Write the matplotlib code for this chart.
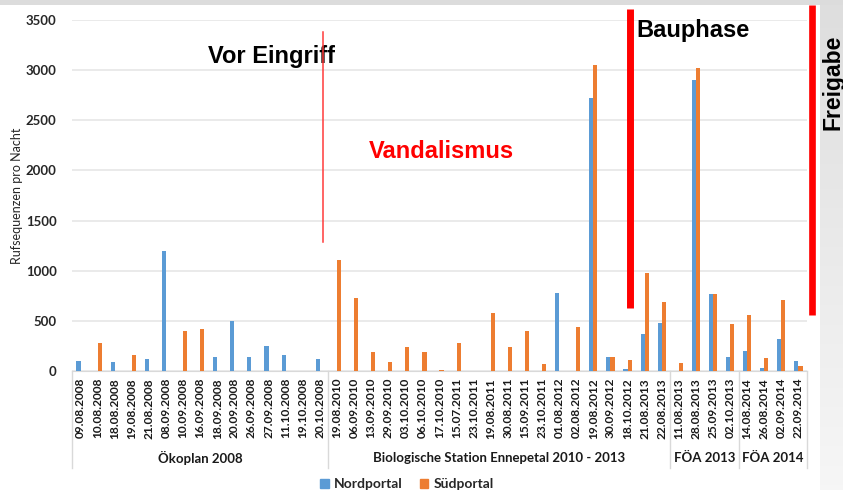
import numpy as np
import matplotlib.pyplot as plt
from matplotlib.lines import Line2D
from matplotlib.patches import Rectangle, Patch
import matplotlib.transforms as mtransforms

dates = ['09.08.2008', '10.08.2008', '18.08.2008', '19.08.2008', '21.08.2008',
         '08.09.2008', '10.09.2008', '16.09.2008', '18.09.2008', '20.09.2008',
         '26.09.2008', '27.09.2008', '11.10.2008', '19.10.2008', '20.10.2008',
         '19.08.2010', '06.09.2010', '13.09.2010', '29.09.2010', '03.10.2010',
         '06.10.2010', '17.10.2010', '15.07.2011', '23.10.2011', '19.08.2011',
         '30.08.2011', '15.09.2011', '23.10.2011', '01.08.2012', '02.08.2012',
         '19.08.2012', '30.09.2012', '18.10.2012', '21.08.2013', '22.08.2013',
         '11.08.2013', '28.08.2013', '25.09.2013', '02.10.2013',
         '14.08.2014', '26.08.2014', '02.09.2014', '22.09.2014']
nord = [95, 0, 85, 0, 120, 1200, 0, 0, 135, 500, 135, 250, 160, 0, 120,
        0, 0, 0, 0, 0, 0, 0, 0, 0, 0, 0, 0, 0, 775, 0,
        2720, 140, 20, 370, 480,
        0, 2900, 765, 140,
        200, 30, 320, 100]
sued = [0, 280, 0, 155, 0, 0, 400, 420, 0, 0, 0, 0, 0, 0, 0,
        1105, 730, 190, 90, 240, 190, 10, 280, 0, 575, 240, 395, 65, 0, 440,
        3050, 135, 105, 980, 685,
        80, 3020, 765, 470,
        555, 130, 705, 50]
groups = ['Ökoplan 2008', 'Biologische Station Ennepetal 2010 - 2013', 'FÖA 2013', 'FÖA 2014']
group_sizes = [15, 20, 4, 4]

W, H = 843, 490
blue = '#5B9BD5'
orange = '#ED7D31'


def fx(x):
    return x / W


def fy(y):
    return 1 - y / H


fig = plt.figure(figsize=(W / 100, H / 100), dpi=100)
fig.patch.set_facecolor('white')

# slide background: grey strip on top, grey gradient on the right
fig.add_artist(Rectangle((0, fy(5)), 1, 5 / H, transform=fig.transFigure,
                         facecolor='#dcdcdc', edgecolor='none', zorder=0))
gax = fig.add_axes([fx(820), 0, fx(W - 820), fy(5)], zorder=0)
grad = np.linspace(0, 1, 100).reshape(-1, 1)
gax.imshow(grad, aspect='auto', cmap=plt.matplotlib.colors.LinearSegmentedColormap.from_list(
    'g', ['#dedede', '#f6f6f6']), extent=[0, 1, 0, 1], origin='upper')
gax.axis('off')

ax = fig.add_axes([fx(72), fy(371), fx(807 - 72), 351 / H], zorder=1)
ax.patch.set_alpha(0)
x = np.arange(len(dates))
bw = 0.24
ax.bar(x - bw / 2, nord, bw, color=blue, label='Nordportal', zorder=3)
ax.bar(x + bw / 2, sued, bw, color=orange, label='Südportal', zorder=3)

ax.set_xlim(-0.5, len(dates) - 0.5)
ax.set_ylim(0, 3500)
ax.set_yticks(range(0, 3501, 500))
ax.yaxis.grid(True, color='#e6e6e6', linewidth=1.2, zorder=0)
ax.set_axisbelow(True)
for s in ['top', 'right', 'left']:
    ax.spines[s].set_visible(False)
ax.spines['bottom'].set_color('#d9d9d9')
ax.tick_params(axis='y', length=0, pad=11, labelsize=9.5, labelcolor='#262626')
for t in ax.get_yticklabels():
    t.set_fontfamily('Lato')
    t.set_fontweight('bold')

ax.set_xticks(x)
ax.set_xticklabels(dates, rotation=90, fontsize=8.6, fontfamily='Lato',
                   fontweight='bold', color='#1a1a1a')
ax.tick_params(axis='x', length=0, pad=5)

ax.set_ylabel('Rufsequenzen pro Nacht', fontsize=9, fontfamily='Lato', color='#262626')
ax.yaxis.set_label_coords(-0.066, 0.5)

# multi-level category axis
trans = mtransforms.blended_transform_factory(ax.transData, ax.transAxes)
edges = np.concatenate([[0], np.cumsum(group_sizes)]) - 0.5
for e in edges:
    ax.plot([e, e], [0, -0.276], transform=trans, color='#d9d9d9', lw=1, clip_on=False)
for i, g in enumerate(groups):
    ax.text((edges[i] + edges[i + 1]) / 2, -0.248, g, transform=trans, ha='center',
            va='center', fontsize=9.5, fontfamily='Lato', fontweight='bold', color='#1a1a1a')

# red markers
fig.add_artist(Line2D([fx(322.5), fx(322.5)], [fy(32), fy(242)], transform=fig.transFigure,
                      color='#ff3b3b', lw=1.1, zorder=5))
fig.add_artist(Line2D([fx(629.5), fx(629.5)], [fy(9), fy(308)], transform=fig.transFigure,
                      color='#ff0000', lw=5, solid_capstyle='butt', zorder=5))
fig.add_artist(Line2D([fx(812), fx(812)], [fy(5), fy(315)], transform=fig.transFigure,
                      color='#ff0000', lw=4.8, solid_capstyle='butt', zorder=5))

# annotations
fig.text(fx(208), fy(63), 'Vor Eingriff', fontsize=17, fontweight='bold',
         fontfamily='Liberation Sans', va='baseline', ha='left')
fig.text(fx(369), fy(158), 'Vandalismus', fontsize=17, fontweight='bold',
         fontfamily='Liberation Sans', va='baseline', ha='left', color='#ff0000')
fig.text(fx(636), fy(37), 'Bauphase', fontsize=17, fontweight='bold',
         fontfamily='Liberation Sans', va='baseline', ha='left')
fig.text(fx(839), fy(130), 'Freigabe', fontsize=16.5, fontweight='bold',
         fontfamily='Liberation Sans', va='baseline', ha='left', rotation=90,
         rotation_mode='anchor')

handles = [Patch(color=blue), Patch(color=orange)]
leg = fig.legend(handles, ['Nordportal', 'Südportal'], loc='center',
                 bbox_to_anchor=(fx(407), fy(484)), ncol=2, frameon=False,
                 handlelength=0.6, handleheight=0.6, handletextpad=0.4,
                 columnspacing=1.2, prop={'family': 'Lato', 'weight': 'bold', 'size': 10})
for t in leg.get_texts():
    t.set_color('#262626')

fig.savefig('out.png', dpi=100)
